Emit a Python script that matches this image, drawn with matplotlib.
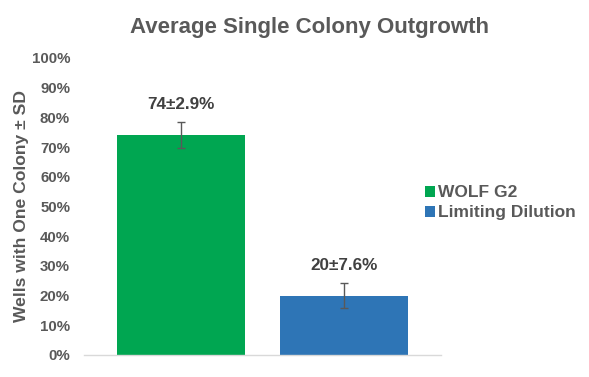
import matplotlib
matplotlib.use("Agg")
import matplotlib.pyplot as plt
from matplotlib.patches import Patch

# Data
groups = ["WOLF G2", "Limiting Dilution"]
means = [74, 20]
errors = [4.3, 4.2]
labels = ["74\u00b12.9%", "20\u00b17.6%"]
colors = ["#00A651", "#2E75B6"]
yticks = list(range(0, 101, 10))

plt.rcParams['font.family'] = ['Liberation Sans', 'DejaVu Sans']
txt = '#595959'

fig = plt.figure(figsize=(5.89, 3.77), dpi=100)
ax = fig.add_axes([0.1426, 0.0584, 0.606, 0.7878])

x = list(range(len(groups)))
ax.bar(x, means, width=0.79, color=colors, zorder=2)
ax.errorbar(x, means, yerr=errors, fmt='none', ecolor='#595959',
            elinewidth=1, capsize=3, capthick=1, zorder=3)

for xi, m, e, lab in zip(x, means, errors, labels):
    ax.text(xi, m + e + 6, lab, ha='center', va='center',
            fontsize=12.3, fontweight='bold', color='#404040')

ax.set_xlim(-0.595, 1.595)
ax.set_ylim(0, 100)
ax.set_yticks(yticks)
ax.set_yticklabels(["%d%%" % t for t in yticks])
ax.set_xticks([])
ax.tick_params(axis='y', length=0, pad=10, labelsize=10.8, labelcolor=txt)
for t in ax.get_yticklabels():
    t.set_fontweight('bold')

for s in ['top', 'right', 'left']:
    ax.spines[s].set_visible(False)
ax.spines['bottom'].set_color('#d9d9d9')
ax.spines['bottom'].set_linewidth(1)

ax.set_ylabel("Wells with One Colony \u00b1 SD", fontsize=12.6,
              fontweight='bold', color=txt, labelpad=2)

fig.text(0.525, 0.926, "Average Single Colony Outgrowth", ha='center',
         va='center', fontsize=16, fontweight='bold', color=txt)

handles = [Patch(facecolor=c) for c in colors]
leg = fig.legend(handles, groups, loc='center left',
                 bbox_to_anchor=(0.706, 0.462), frameon=False,
                 borderpad=0, handlelength=0.6, handleheight=0.6,
                 handletextpad=0.15, labelspacing=0.3,
                 prop={'weight': 'bold', 'size': 12.5})
for t in leg.get_texts():
    t.set_color(txt)

fig.savefig("out.png", dpi=100)
